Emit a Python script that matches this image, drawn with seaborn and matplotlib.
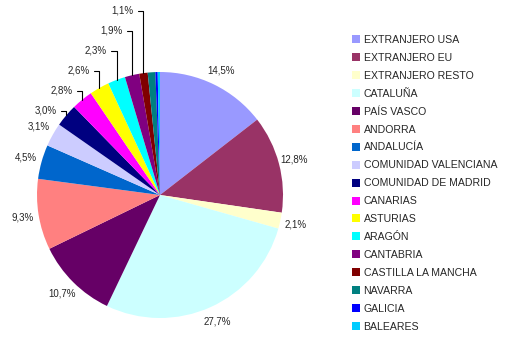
import numpy as np
import matplotlib
matplotlib.use("Agg")
import matplotlib.pyplot as plt
from matplotlib.lines import Line2D
import seaborn as sns

regiones = ["EXTRANJERO USA", "EXTRANJERO EU", "EXTRANJERO RESTO", "CATALUÑA", "PAÍS VASCO",
            "ANDORRA", "ANDALUCÍA", "COMUNIDAD VALENCIANA", "COMUNIDAD DE MADRID", "CANARIAS",
            "ASTURIAS", "ARAGÓN", "CANTABRIA", "CASTILLA LA MANCHA", "NAVARRA", "GALICIA", "BALEARES"]
porcentajes = [14.5, 12.8, 2.1, 27.7, 10.7, 9.3, 4.5, 3.1, 3.0, 2.8, 2.6, 2.3, 1.9, 1.1, 1.0, 0.3, 0.3]
colores = ["#9999FF", "#993366", "#FFFFCC", "#CCFFFF", "#660066", "#FF8080", "#0066CC", "#CCCCFF",
           "#000080", "#FF00FF", "#FFFF00", "#00FFFF", "#800080", "#800000", "#008080", "#0000FF", "#00CCFF"]

# etiquetas: directas, con linea guia, o sin etiqueta
directas = [0, 1, 2, 3, 4, 5, 6, 7]
con_guia = [8, 9, 10, 11, 12, 13]

sns.set_style("white")
plt.rcParams['font.family'] = ['Liberation Sans', 'DejaVu Sans']
pal = sns.color_palette(colores)

W, H = 512, 356
cx, cy, R = 160, 195, 123
fig = plt.figure(figsize=(W / 100, H / 100), dpi=100)
ax = fig.add_axes([0, 0, 1, 1])

ax.pie(porcentajes, colors=pal, startangle=90, counterclock=False, radius=1,
       wedgeprops=dict(linewidth=0))
ax.set_xlim(-cx / R, (W - cx) / R)
ax.set_ylim(-(H - cy) / R, cy / R)
ax.axis('off')

total = sum(porcentajes)
acum = np.cumsum(porcentajes) - np.array(porcentajes) / 2
ang = np.deg2rad(90 - acum / total * 360)

def fmt(v):
    return ("%.1f%%" % v).replace(".", ",")

for i in directas:
    d = 1.13
    ax.text(d * np.cos(ang[i]), d * np.sin(ang[i]), fmt(porcentajes[i]),
            ha='center', va='center', fontsize=7)

paso = 20 / R
for k, i in enumerate(reversed(con_guia)):
    px, py = np.cos(ang[i]), np.sin(ang[i])
    ty = 1.50 - paso * k
    tx = px - 0.17
    ax.annotate(fmt(porcentajes[i]), xy=(px, py), xytext=(tx, ty),
                ha='center', va='center', fontsize=7,
                arrowprops=dict(arrowstyle='-', color='black', lw=0.8, shrinkA=1, shrinkB=0,
                                connectionstyle='angle,angleA=0,angleB=90,rad=0'))

handles = [Line2D([0], [0], marker='s', linestyle='', markersize=6,
                  markerfacecolor=c, markeredgewidth=0) for c in pal]
ax.legend(handles, regiones, loc='upper left', bbox_to_anchor=(352 / W, 1 - 35 / H),
          bbox_transform=fig.transFigure, frameon=False, borderpad=0, borderaxespad=0,
          fontsize=7.6, labelspacing=0.75, handlelength=0.8, handletextpad=0.3)

fig.savefig("out.png", dpi=100)
